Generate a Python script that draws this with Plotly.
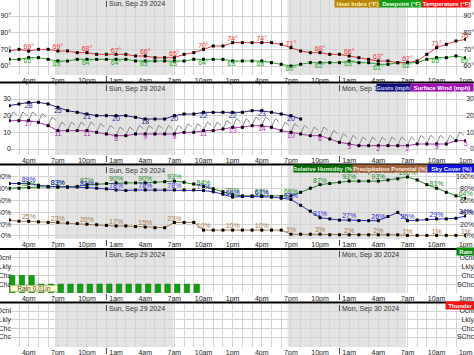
import plotly.graph_objects as go

W, H = 474, 355
FONT = "Liberation Sans"

# ---------------- data ----------------
hours = list(range(48))  # hours after 2pm Sun Sep 29
tick_hours = [2, 5, 8, 11, 14, 17, 20, 23, 26, 29, 32, 35, 38, 41, 44, 47]
tick_text = ["4pm", "7pm", "10pm", "1am", "4am", "7am", "10am", "1pm",
             "4pm", "7pm", "10pm", "1am", "4am", "7am", "10am", "1pm"]

temperature = [69, 70, 69, 70, 70, 69, 69, 68, 68, 67, 67, 67, 67, 66, 66, 65,
               65, 65, 67, 68, 70, 72, 72, 74, 74, 74, 74, 74, 73, 71, 69, 68,
               68, 67, 67, 66, 65, 64, 63, 63, 62, 62, 63, 67, 71, 73, 75, 76]
dewpoint = [64, 64, 65, 65, 64, 63, 63, 64, 64, 64, 64, 64, 64, 63, 63, 63,
            63, 63, 63, 64, 64, 64, 64, 63, 63, 63, 63, 62, 61, 60, 61, 62,
            62, 62, 62, 63, 62, 62, 61, 61, 62, 62, 62, 64, 65, 65, 66, 65]
gusts = [26, 27, 28, 28, 27, 25, 23, 22, 21, 20, 20, 20, 20, 19, 18, 18,
         18, 20, 21, 21, 22, 22, 22, 22, 22, 23, 23, 22, 21, 20, 18]
surface_wind = [17, 17, 17, 16, 14, 11, 11, 11, 11, 10, 9, 8, 8, 9, 9, 9,
                9, 9, 10, 10, 11, 11, 12, 13, 13, 14, 14, 13, 11, 10, 9, 8,
                8, 6, 4, 3, 2, 2, 2, 2, 2, 2, 3, 3, 3, 3, 5, 5]
rel_humidity = [81, 81, 82, 83, 83, 83, 83, 84, 87, 88, 89, 90, 90, 90, 90, 91,
                92, 93, 91, 88, 84, 80, 75, 70, 68, 68, 68, 67, 67, 68, 74, 81,
                87, 89, 91, 93, 93, 93, 93, 95, 97, 100, 95, 87, 81, 74, 68, 64]
sky_cover = [89, 89, 89, 86, 84, 83, 83, 83, 82, 81, 80, 78, 77, 78, 78, 78,
             78, 78, 78, 78, 77, 75, 71, 66, 67, 67, 67, 66, 64, 62, 52, 42,
             31, 29, 27, 27, 26, 26, 26, 33, 40, 26, 27, 28, 29, 29, 30, 34]
precip_potential = [27, 25, 25, 24, 23, 23, 22, 21, 20, 19, 18, 17, 17, 16, 15, 14,
                    14, 23, 23, 23, 10, 10, 10, 10, 10, 10, 10, 10, 10, 3, 3, 3,
                    3, 2, 2, 2, 2, 2, 2, 2, 2, 1, 1, 1, 1, 1, 1, 1]
rain_hours = list(range(20))
rain_level = [2, 2, 2, 1, 1, 1, 1, 1, 1, 1, 1, 1, 1, 1, 1, 1, 1, 1, 1, 1]
level_values = [1, 2, 3, 4]
level_names = ["SChc", "Chc", "Lkly", "Ocnl"]
night_periods = [(4.7, 16.9), (28.65, 40.85)]
midnights = [10, 34]
date_labels = ["Sun, Sep 29 2024", "Mon, Sep 30 2024"]
qpf_label = "Rain 0.01in"

# ---------------- layout helpers ----------------
def py(p):
    return 1 - p / H

def px(p):
    return p / W

# panel pixel extents (top, bottom)
panels = [(0, 75), (84, 155), (166, 239), (250, 293), (304, 347)]
yranges = [[54.6, 99.6], [-3.6, 39.0], [-5.1, 118.6], [-0.03, 4.92], [-0.15, 4.81]]
ytickvals = [[60, 70, 80, 90], [0, 10, 20, 30], [0, 20, 40, 60, 80, 100],
             level_values, level_values]
yticktext = [[f"{v}°" for v in ytickvals[0]], [str(v) for v in ytickvals[1]],
             [f"{v}%" for v in ytickvals[2]], level_names, level_names]

GRID = "#d4d4d4"
XDOM = [px(9), px(466)]
XR = [-0.03, 47.03]
TF = dict(size=7, color="#222", family=FONT)

fig = go.Figure()

def ax(i):
    return ("x" if i == 1 else f"x{i}"), ("y" if i == 1 else f"y{i}")

def line_trace(x, y, color, i):
    xa, ya = ax(i)
    fig.add_trace(go.Scatter(x=x, y=y, mode="lines+markers",
                             line=dict(color=color, width=1),
                             marker=dict(symbol="square", size=3, color="black"),
                             xaxis=xa, yaxis=ya, hoverinfo="skip", showlegend=False))

def label_trace(vals, color, pos, i, suffix=""):
    xa, ya = ax(i)
    xs = [h for h in tick_hours if h < len(vals)]
    ys = [vals[h] for h in xs]
    fig.add_trace(go.Scatter(x=xs, y=ys, mode="text", text=[f"{v}{suffix}" for v in ys],
                             textposition=pos, textfont=dict(size=7, color=color, family=FONT),
                             xaxis=xa, yaxis=ya, hoverinfo="skip", showlegend=False,
                             cliponaxis=False))

# panel 1: temperature / dewpoint
line_trace(hours, dewpoint, "#22aa22", 1)
line_trace(hours, temperature, "#ee3333", 1)
label_trace(temperature, "#ee3333", "top center", 1, "°")
label_trace(dewpoint, "#22aa22", "bottom center", 1, "°")

# panel 2: wind
bx, by = [], []
for h, w in zip(hours, surface_wind):
    bx += [h, h + 0.4, h + 0.8, None]
    by += [w + 0.3, w + 5.2, w + 3.2, None]
fig.add_trace(go.Scatter(x=bx, y=by, mode="lines", line=dict(color="#8a8a8a", width=1),
                         xaxis="x2", yaxis="y2", hoverinfo="skip", showlegend=False))
line_trace(hours[:len(gusts)], gusts, "#222288", 2)
line_trace(hours, surface_wind, "#b030b0", 2)
label_trace(gusts, "#222288", "bottom center", 2)
label_trace(surface_wind, "#b030b0", "bottom center", 2)

# panel 3: humidity / precip / sky
line_trace(hours, precip_potential, "#a87a48", 3)
line_trace(hours, rel_humidity, "#1e8a1e", 3)
line_trace(hours, sky_cover, "#2a2ad0", 3)
label_trace(precip_potential, "#a87a48", "top center", 3, "%")
label_trace(rel_humidity, "#1e8a1e", "top center", 3, "%")
label_trace(sky_cover, "#2a2ad0", "top center", 3, "%")

# panel 4: rain
fig.add_trace(go.Bar(x=rain_hours, y=rain_level, offset=0.02, width=0.56,
                     marker=dict(color="#10a010", line=dict(color="#0a6a0a", width=0.5)),
                     xaxis="x4", yaxis="y4", hoverinfo="skip", showlegend=False))
# panel 5: thunder (no occurrences)
fig.add_trace(go.Scatter(x=[None], y=[None], xaxis="x5", yaxis="y5", showlegend=False))

# dummy traces for right-hand label axes
for i in range(1, 6):
    xa, _ = ax(i)
    fig.add_trace(go.Scatter(x=[None], y=[None], xaxis=xa, yaxis=f"y{i+5}",
                             showlegend=False, hoverinfo="skip"))

layout = dict(width=W, height=H, margin=dict(l=0, r=0, t=0, b=0, pad=0, autoexpand=False),
              plot_bgcolor="white", paper_bgcolor="white", showlegend=False,
              bargap=0, font=dict(family=FONT, size=7))

shapes = []
annotations = []
for i, (top, bot) in enumerate(panels, start=1):
    xa, ya = ax(i)
    xkey = "xaxis" if i == 1 else f"xaxis{i}"
    ykey = "yaxis" if i == 1 else f"yaxis{i}"
    layout[xkey] = dict(domain=XDOM, range=XR, anchor=ya, tickvals=tick_hours,
                        ticktext=tick_text, showgrid=True, gridcolor=GRID, gridwidth=1,
                        minor=dict(dtick=1, tick0=0, showgrid=True, gridcolor=GRID),
                        ticks="", ticklen=0, tickfont=TF, zeroline=False, showline=False,
                        automargin=False)
    layout[ykey] = dict(domain=[py(bot), py(top)], range=yranges[i - 1], anchor="free",
                        position=px(11), side="left",
                        tickvals=ytickvals[i - 1], ticktext=yticktext[i - 1],
                        showgrid=True, gridcolor=GRID, ticks="", ticklen=0, tickfont=TF,
                        zeroline=False, showline=False, automargin=False)
    layout[f"yaxis{i+5}"] = dict(overlaying=ya, anchor="free", position=1.0, side="left",
                                  range=yranges[i - 1], tickvals=ytickvals[i - 1],
                                  ticktext=yticktext[i - 1], showgrid=False, ticks="",
                                  ticklen=0, tickfont=TF, zeroline=False, showline=False,
                                  automargin=False)
    for (a, b) in night_periods:
        shapes.append(dict(type="rect", xref=xa, yref=f"{ya} domain", x0=a, x1=b, y0=0, y1=1,
                           fillcolor="#e3e3e3", line=dict(width=0), layer="below"))
    for m, lab in zip(midnights, date_labels):
        annotations.append(dict(xref=xa, yref="paper", x=m + 0.05, y=py(top + 4.5),
                                text=lab, showarrow=False, xanchor="left", yanchor="middle",
                                font=dict(size=7, color="#333", family=FONT)))
        shapes.append(dict(type="line", xref=xa, yref="paper", x0=m, x1=m,
                           y0=py(top + 1), y1=py(top + 7), line=dict(color="#444", width=1)))
        shapes.append(dict(type="line", xref=xa, yref="paper", x0=m, x1=m,
                           y0=py(bot + 1), y1=py(bot + 7), line=dict(color="#444", width=1)))

# panel separators
for ysep in [82.5, 164.5, 249, 302.5]:
    shapes.append(dict(type="line", xref="paper", yref="paper", x0=0, x1=1,
                       y0=py(ysep), y1=py(ysep), line=dict(color="black", width=2)))

# legend boxes
legend_boxes = [
    ("Heat Index (°F)", 334, 379, 4, "#b8860b", "#fff2b0"),
    ("Dewpoint (°F)", 379, 422, 4, "#139a13", "#e8ffe8"),
    ("Temperature (°F)", 422, 469, 4, "#ff1010", "#ffffff"),
    ("Gusts (mph)", 376, 410, 87, "#10107a", "#d8d8ff"),
    ("Surface Wind (mph)", 410, 472, 87, "#a010b0", "#ffffff"),
    ("Relative Humidity (%)", 293, 352, 168.5, "#0a6a0a", "#e0ffe0"),
    ("Precipitation Potential (%)", 352, 427, 168.5, "#a0643a", "#fff0e0"),
    ("Sky Cover (%)", 427, 474, 168.5, "#1010e0", "#ffffff"),
    ("Rain", 456, 474, 251.5, "#0a8a0a", "#ffffff"),
    ("Thunder", 445, 474, 305.5, "#ff1010", "#ffffff"),
]
for text, x0, x1, yc, bg, fc in legend_boxes:
    annotations.append(dict(xref="paper", yref="paper", x=px(x0), y=py(yc), text=f"<b>{text}</b>",
                            showarrow=False, xanchor="left", yanchor="middle",
                            width=x1 - x0, height=7, bgcolor=bg, borderpad=0, align="center",
                            font=dict(size=6, color=fc, family=FONT)))

annotations.append(dict(xref="paper", yref="paper", x=px(10), y=py(288.5), text=qpf_label,
                        showarrow=False, xanchor="left", yanchor="middle", width=47, height=6,
                        bgcolor="#ffffc8", bordercolor="#9a9a60", borderwidth=0.5, borderpad=0,
                        align="center", font=dict(size=6.5, color="#444", family=FONT)))

layout["shapes"] = shapes
layout["annotations"] = annotations
fig.update_layout(**layout)
fig.write_html("out.html", config={"displayModeBar": False, "staticPlot": True},
               post_script="document.body.style.margin='0';document.body.style.overflow='hidden';")
